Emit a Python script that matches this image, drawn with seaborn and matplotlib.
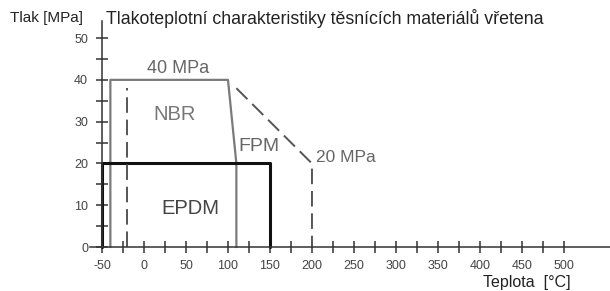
import matplotlib
matplotlib.use("Agg")
import matplotlib.pyplot as plt
import seaborn as sns

# data
nbr_t = [-40, -40, 100, 110, 110]      # NBR / FPM outline
nbr_p = [0, 40, 40, 20, 0]
epdm_t = [-50, -50, 150, 150]          # EPDM outline
epdm_p = [0, 20, 20, 0]
fpm_t = [110, 200, 200]                # dashed 20 MPa limit
fpm_p = [38, 20, 0]
low_t = [-20, -20]                     # dashed low temperature limit
low_p = [0, 38]

x_major = list(range(-50, 501, 50))
x_minor = list(range(-25, 476, 50))
y_major = list(range(0, 51, 10))
y_minor = list(range(5, 46, 10))

sns.set_style("white")
plt.rcParams['font.family'] = ['Liberation Sans', 'DejaVu Sans']
plt.rcParams['axes.unicode_minus'] = False

fig = plt.figure(figsize=(6.1, 2.91), dpi=100)
ax = fig.add_axes([0, 0, 1, 1])
ax.patch.set_alpha(0)

sns.lineplot(x=nbr_t, y=nbr_p, sort=False, estimator=None, ax=ax,
             color='#7a7a7a', linewidth=1.6)
sns.lineplot(x=epdm_t, y=epdm_p, sort=False, estimator=None, ax=ax,
             color='#111111', linewidth=2.2)
sns.lineplot(x=fpm_t, y=fpm_p, sort=False, estimator=None, ax=ax,
             color='#555555', linewidth=1.4, linestyle=(0, (8, 3.5)))
sns.lineplot(x=low_t, y=low_p, sort=False, estimator=None, ax=ax,
             color='#555555', linewidth=1.4, linestyle=(0, (8, 3.5)))

for s in ['top', 'right']:
    ax.spines[s].set_visible(False)
ax.spines['left'].set_position(('data', -50))
ax.spines['bottom'].set_position(('data', 0))
ax.spines['left'].set_bounds(0, 54)
ax.spines['bottom'].set_bounds(-64, 560)
for s in ['left', 'bottom']:
    ax.spines[s].set_color('#333333')
    ax.spines[s].set_linewidth(1.1)

ax.set_xticks(x_major)
ax.set_xticks(x_minor, minor=True)
ax.set_yticks(y_major)
ax.set_yticks(y_minor, minor=True)
ax.tick_params(which='both', bottom=True, left=True, direction='inout', length=8,
               width=1.1, color='#333333', labelsize=9, labelcolor='#444444')
ax.tick_params(axis='y', pad=6)
ax.tick_params(axis='x', pad=5)
ax.set_xlim(-171.4, 554.8)
ax.set_ylim(-10.5, 59.1)

ax.text(40, 42.8, '40 MPa', ha='center', va='center', fontsize=13, color='#666666')
ax.text(36, 31.8, 'NBR', ha='center', va='center', fontsize=14.5, color='#777777')
ax.text(137, 24, 'FPM', ha='center', va='center', fontsize=14, color='#666666')
ax.text(240, 21.5, '20 MPa', ha='center', va='center', fontsize=12.5, color='#666666')
ax.text(55, 9.3, 'EPDM', ha='center', va='center', fontsize=14.5, color='#444444')

fig.text(106 / 610, 1 - 18 / 291, 'Tlakoteplotní charakteristiky těsnících materiálů vřetena',
         ha='left', va='center', fontsize=12.8, color='#222222')
fig.text(10 / 610, 1 - 18 / 291, 'Tlak [MPa]', ha='left', va='center', fontsize=11,
         color='#222222')
fig.text(571 / 610, 1 - 282 / 291, 'Teplota  [°C]', ha='right', va='center', fontsize=11.5,
         color='#222222')

fig.savefig('out.png', dpi=100)
